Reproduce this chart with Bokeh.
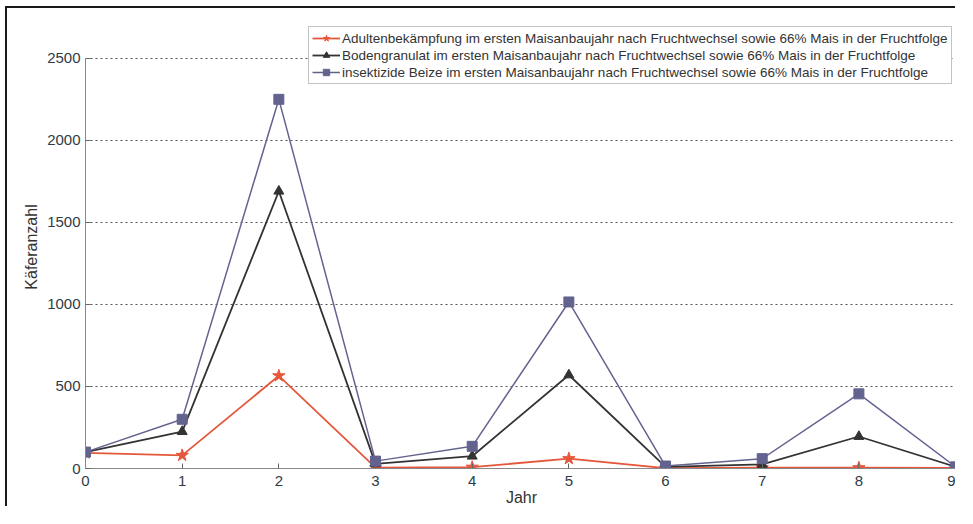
from bokeh.plotting import figure
from bokeh.models import Legend, LegendItem, FixedTicker, Range1d
from bokeh.embed import file_html
from bokeh.resources import INLINE

jahr = [0, 1, 2, 3, 4, 5, 6, 7, 8, 9]
adulten = [95, 80, 565, 5, 8, 60, 2, 5, 5, 3]
boden = [100, 225, 1690, 28, 75, 570, 10, 25, 195, 10]
beize = [100, 300, 2250, 45, 135, 1015, 15, 60, 455, 10]

labels = [
    "Adultenbekämpfung im ersten Maisanbaujahr nach Fruchtwechsel sowie 66% Mais in der Fruchtfolge",
    "Bodengranulat im ersten Maisanbaujahr nach Fruchtwechsel sowie 66% Mais in der Fruchtfolge",
    "insektizide Beize im ersten Maisanbaujahr nach Fruchtwechsel sowie 66% Mais in der Fruchtfolge",
]
y_ticks = [0, 500, 1000, 1500, 2000, 2500]

FONT = "Liberation Sans"
red = "#e5573b"
black = "#333333"
blue = "#63638f"

p = figure(width=950, height=500, output_backend="svg", toolbar_location=None,
           x_range=Range1d(0, 9.02), y_range=Range1d(0, 2700),
           min_border_left=78, min_border_right=0, min_border_top=17, min_border_bottom=39)
p.outline_line_color = None
p.background_fill_color = "white"
p.styles = {"border-left": "2px solid #1a1a1a", "border-top": "2px solid #1a1a1a",
            "margin-left": "5px", "margin-top": "6px"}

r_red_l = p.line(jahr, adulten, line_color=red, line_width=1.8)
r_red_m = p.scatter(jahr, adulten, marker="star", size=13, fill_color=red, line_color=red)
r_blk_l = p.line(jahr, boden, line_color=black, line_width=1.8)
r_blk_m = p.scatter(jahr, boden, marker="triangle", size=10, fill_color=black, line_color=black)
r_blu_l = p.line(jahr, beize, line_color=blue, line_width=1.5)
r_blu_m = p.scatter(jahr, beize, marker="square", size=10, fill_color=blue, line_color=blue)

p.xgrid.grid_line_color = None
p.ygrid.ticker = FixedTicker(ticks=y_ticks)
p.ygrid.grid_line_color = "#555555"
p.ygrid.grid_line_dash = "2 3"
p.ygrid.grid_line_width = 1

p.xaxis.ticker = FixedTicker(ticks=jahr)
p.yaxis.ticker = FixedTicker(ticks=y_ticks)
p.xaxis.bounds = (0, 9)
p.yaxis.bounds = (0, 2500)
for ax in (p.xaxis, p.yaxis):
    ax.axis_line_color = "#888888"
    ax.major_tick_line_color = "#666666"
    ax.major_tick_in = 5
    ax.major_tick_out = 0
    ax.minor_tick_line_color = None
    ax.major_label_text_font = FONT
    ax.major_label_text_font_size = "15px"
    ax.major_label_text_color = "#2f3b46"
    ax.axis_label_text_font = FONT
    ax.axis_label_text_font_size = "16px"
    ax.axis_label_text_font_style = "normal"
    ax.axis_label_text_color = "#333333"
p.xaxis.axis_label = "Jahr"
p.yaxis.axis_label = "Käferanzahl"
p.xaxis.major_label_standoff = 7
p.xaxis.axis_label_standoff = 0
p.yaxis.major_label_standoff = 5
p.yaxis.axis_label_standoff = 4

legend = Legend(items=[
    LegendItem(label=labels[0], renderers=[r_red_l, r_red_m]),
    LegendItem(label=labels[1], renderers=[r_blk_l, r_blk_m]),
    LegendItem(label=labels[2], renderers=[r_blu_l, r_blu_m]),
], location=(223, 384))
legend.label_text_font = FONT
legend.label_text_font_size = "13.5px"
legend.label_text_color = "#333333"
legend.label_height = 16
legend.glyph_height = 16
legend.glyph_width = 28
legend.label_standoff = 2
legend.spacing = 1
legend.padding = 3
legend.margin = 0
legend.border_line_color = "#888888"
legend.border_line_width = 1
legend.background_fill_alpha = 1
p.add_layout(legend, "center")

open("out.html", "w").write(file_html(p, INLINE))
